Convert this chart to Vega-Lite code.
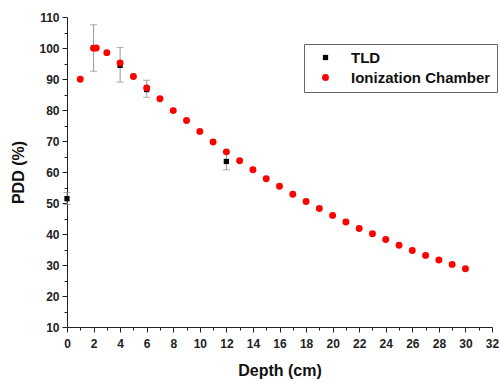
{
  "$schema": "https://vega.github.io/schema/vega-lite/v6.json",
  "autosize": "none",
  "width": 425,
  "height": 310,
  "padding": {"left": 67, "top": 17, "right": 7, "bottom": 55},
  "background": "white",
  "config": {
    "view": {"stroke": null},
    "font": "Liberation Sans",
    "axis": {
      "grid": false,
      "domainColor": "#222222",
      "tickColor": "#222222",
      "labelFont": "Liberation Sans",
      "labelFontWeight": "bold",
      "labelFontSize": 12,
      "labelColor": "#222222",
      "labelFlush": false,
      "labelOverlap": false,
      "titleFont": "Liberation Sans",
      "titleFontWeight": "bold",
      "titleFontSize": 16,
      "titleColor": "#111111"
    }
  },
  "datasets": {
    "pts": [
      {"depth": 0, "pdd": 51.4, "series": "TLD"},
      {"depth": 2, "pdd": 100, "series": "TLD"},
      {"depth": 4, "pdd": 94.4, "series": "TLD"},
      {"depth": 6, "pdd": 86.6, "series": "TLD"},
      {"depth": 12, "pdd": 63.4, "series": "TLD"},
      {"depth": 1, "pdd": 89.9, "series": "Ionization Chamber"},
      {"depth": 2, "pdd": 99.9, "series": "Ionization Chamber"},
      {"depth": 2.2, "pdd": 100, "series": "Ionization Chamber"},
      {"depth": 3, "pdd": 98.5, "series": "Ionization Chamber"},
      {"depth": 4, "pdd": 95.2, "series": "Ionization Chamber"},
      {"depth": 5, "pdd": 90.8, "series": "Ionization Chamber"},
      {"depth": 6, "pdd": 87.1, "series": "Ionization Chamber"},
      {"depth": 7, "pdd": 83.6, "series": "Ionization Chamber"},
      {"depth": 8, "pdd": 79.8, "series": "Ionization Chamber"},
      {"depth": 9, "pdd": 76.6, "series": "Ionization Chamber"},
      {"depth": 10, "pdd": 73.1, "series": "Ionization Chamber"},
      {"depth": 11, "pdd": 69.7, "series": "Ionization Chamber"},
      {"depth": 12, "pdd": 66.5, "series": "Ionization Chamber"},
      {"depth": 13, "pdd": 63.6, "series": "Ionization Chamber"},
      {"depth": 14, "pdd": 60.7, "series": "Ionization Chamber"},
      {"depth": 15, "pdd": 57.8, "series": "Ionization Chamber"},
      {"depth": 16, "pdd": 55.4, "series": "Ionization Chamber"},
      {"depth": 17, "pdd": 52.8, "series": "Ionization Chamber"},
      {"depth": 18, "pdd": 50.5, "series": "Ionization Chamber"},
      {"depth": 19, "pdd": 48.2, "series": "Ionization Chamber"},
      {"depth": 20, "pdd": 46.0, "series": "Ionization Chamber"},
      {"depth": 21, "pdd": 43.9, "series": "Ionization Chamber"},
      {"depth": 22, "pdd": 41.8, "series": "Ionization Chamber"},
      {"depth": 23, "pdd": 40.1, "series": "Ionization Chamber"},
      {"depth": 24, "pdd": 38.2, "series": "Ionization Chamber"},
      {"depth": 25, "pdd": 36.4, "series": "Ionization Chamber"},
      {"depth": 26, "pdd": 34.7, "series": "Ionization Chamber"},
      {"depth": 27, "pdd": 33.1, "series": "Ionization Chamber"},
      {"depth": 28, "pdd": 31.6, "series": "Ionization Chamber"},
      {"depth": 29, "pdd": 30.2, "series": "Ionization Chamber"},
      {"depth": 30, "pdd": 28.8, "series": "Ionization Chamber"}
    ],
    "err": [
      {"depth": 0, "lo": 49.5, "hi": 53.4},
      {"depth": 2, "lo": 92.5, "hi": 107.5},
      {"depth": 4, "lo": 89.0, "hi": 100.2},
      {"depth": 6, "lo": 84.1, "hi": 89.6},
      {"depth": 12, "lo": 60.7, "hi": 66.1}
    ]
  },
  "layer": [
    {
      "data": {"name": "err"},
      "mark": {"type": "errorbar", "ticks": {"size": 7, "color": "#888888"}, "rule": {"color": "#999999"}, "thickness": 1},
      "encoding": {
        "x": {
          "field": "depth", "type": "quantitative",
          "scale": {"domain": [0, 32], "nice": false, "zero": false},
          "axis": {
            "title": "Depth (cm)",
            "values": [0,1,2,3,4,5,6,7,8,9,10,11,12,13,14,15,16,17,18,19,20,21,22,23,24,25,26,27,28,29,30,31,32],
            "labelExpr": "datum.value % 2 === 0 ? datum.label : ''",
            "tickSize": {"condition": {"test": "datum.value % 2 === 1", "value": 3}, "value": 5},
            "labelPadding": 6,
            "titlePadding": 13
          }
        },
        "y": {
          "field": "lo", "type": "quantitative",
          "scale": {"domain": [10, 110], "nice": false, "zero": false},
          "axis": {
            "title": "PDD (%)",
            "values": [10,15,20,25,30,35,40,45,50,55,60,65,70,75,80,85,90,95,100,105,110],
            "labelExpr": "datum.value % 10 === 0 ? datum.label : ''",
            "tickSize": {"condition": {"test": "datum.value % 10 !== 0", "value": 3}, "value": 5},
            "labelPadding": 3,
            "titlePadding": 12
          }
        },
        "y2": {"field": "hi"}
      }
    },
    {
      "data": {"name": "pts"},
      "mark": {"type": "point", "filled": true, "opacity": 1},
      "encoding": {
        "x": {
          "field": "depth", "type": "quantitative",
          "scale": {"domain": [0, 32], "nice": false, "zero": false},
          "axis": {
            "title": "Depth (cm)",
            "values": [0,1,2,3,4,5,6,7,8,9,10,11,12,13,14,15,16,17,18,19,20,21,22,23,24,25,26,27,28,29,30,31,32],
            "labelExpr": "datum.value % 2 === 0 ? datum.label : ''",
            "tickSize": {"condition": {"test": "datum.value % 2 === 1", "value": 3}, "value": 5},
            "labelPadding": 6,
            "titlePadding": 13
          }
        },
        "y": {
          "field": "pdd", "type": "quantitative",
          "scale": {"domain": [10, 110], "nice": false, "zero": false},
          "axis": {
            "title": "PDD (%)",
            "values": [10,15,20,25,30,35,40,45,50,55,60,65,70,75,80,85,90,95,100,105,110],
            "labelExpr": "datum.value % 10 === 0 ? datum.label : ''",
            "tickSize": {"condition": {"test": "datum.value % 10 !== 0", "value": 3}, "value": 5},
            "labelPadding": 3,
            "titlePadding": 12
          }
        },
        "color": {
          "field": "series", "type": "nominal",
          "scale": {"domain": ["TLD", "Ionization Chamber"], "range": ["#000000", "#ff0000"]},
          "legend": {
            "title": null,
            "orient": "none",
            "legendX": 237,
            "legendY": 27,
            "direction": "vertical",
            "strokeColor": "#666666",
            "fillColor": "white",
            "padding": 6,
            "rowPadding": 4,
            "symbolSize": 50,
            "symbolOffset": 8,
            "labelFont": "Liberation Sans",
            "labelFontWeight": "bold",
            "labelFontSize": 15,
            "labelColor": "#111111",
            "labelOffset": 18,
            "labelLimit": 300
          }
        },
        "shape": {
          "field": "series", "type": "nominal",
          "scale": {"domain": ["TLD", "Ionization Chamber"], "range": ["square", "circle"]},
          "legend": null
        },
        "size": {
          "field": "series", "type": "nominal",
          "scale": {"domain": ["TLD", "Ionization Chamber"], "range": [28, 48]},
          "legend": null
        }
      }
    }
  ]
}
